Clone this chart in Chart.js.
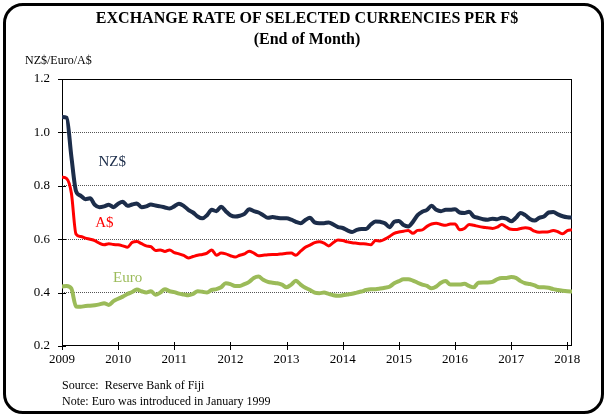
<!DOCTYPE html>
<html>
<head>
<meta charset="utf-8">
<script src="https://cdn.jsdelivr.net/npm/chart.js@4.4.1/dist/chart.umd.min.js"></script>
<style>
  body { margin: 0; background: #fff; font-family: "Liberation Serif", "Times New Roman", serif; }
  #frame { position: absolute; left: 3px; top: 3px; width: 595px; height: 405px; border: 3px solid #000; border-radius: 20px; }
  #title { position: absolute; left: 0; top: 7px; width: 614px; text-align: center; font-weight: bold; font-size: 16px; line-height: 21px; }
  #unit { position: absolute; left: 25px; top: 53px; font-size: 12px; line-height: 14px; }
  #note { position: absolute; left: 62px; top: 377px; font-size: 12px; line-height: 16px; }
  #chart { position: absolute; left: 0; top: 0; }
</style>
</head>
<body>
<div id="frame"></div>
<canvas id="chart" width="608" height="416"></canvas>
<div id="title">EXCHANGE RATE OF SELECTED CURRENCIES PER F$<br>(End of Month)</div>
<div id="unit">NZ$/Euro/A$</div>
<div id="note">Source:&nbsp; Reserve Bank of Fiji<br>Note: Euro was introduced in January 1999</div>
<script>
// Month-end rates, January 2009 onwards
const startYear = 2009;
const years = [2009, 2010, 2011, 2012, 2013, 2014, 2015, 2016, 2017, 2018];
const yTicks = [0.2, 0.4, 0.6, 0.8, 1.0, 1.2];

const nzd = [1.058, 1.055, 0.91, 0.78, 0.763, 0.75, 0.753, 0.729, 0.72, 0.723, 0.729, 0.72,
  0.733, 0.74, 0.725, 0.73, 0.734, 0.72, 0.723, 0.73, 0.726, 0.723, 0.719, 0.715,
  0.723, 0.733, 0.725, 0.71, 0.70, 0.685, 0.678, 0.69, 0.71, 0.705, 0.722, 0.705,
  0.69, 0.685, 0.688, 0.695, 0.712, 0.705, 0.70, 0.69, 0.68, 0.683, 0.68, 0.678,
  0.678, 0.673, 0.665, 0.66, 0.672, 0.68, 0.663, 0.66, 0.66, 0.663, 0.655, 0.645,
  0.642, 0.633, 0.627, 0.635, 0.638, 0.638, 0.655, 0.666, 0.665, 0.66, 0.645, 0.665,
  0.668, 0.653, 0.648, 0.665, 0.69, 0.703, 0.71, 0.725, 0.71, 0.705, 0.71, 0.71,
  0.712, 0.70, 0.698, 0.703, 0.685, 0.68, 0.675, 0.673, 0.677, 0.675, 0.68, 0.677,
  0.667, 0.68, 0.698, 0.69, 0.676, 0.67, 0.68, 0.685, 0.70, 0.702, 0.693, 0.686,
  0.682, 0.681];

const aud = [0.832, 0.827, 0.773, 0.619, 0.61, 0.604, 0.60, 0.595, 0.585, 0.579, 0.583, 0.58,
  0.579, 0.575, 0.57, 0.588, 0.591, 0.583, 0.575, 0.572, 0.558, 0.56, 0.554, 0.56,
  0.55, 0.545, 0.539, 0.53, 0.535, 0.54, 0.543, 0.548, 0.56, 0.54, 0.548, 0.545,
  0.538, 0.533, 0.54, 0.545, 0.555, 0.548, 0.538, 0.54, 0.542, 0.543, 0.543, 0.545,
  0.547, 0.548, 0.54, 0.555, 0.57, 0.578, 0.587, 0.59, 0.585, 0.575, 0.588, 0.597,
  0.595, 0.59, 0.587, 0.585, 0.583, 0.582, 0.579, 0.595, 0.593, 0.60, 0.61, 0.622,
  0.627, 0.63, 0.633, 0.622, 0.633, 0.635, 0.648, 0.657, 0.66, 0.655, 0.652, 0.657,
  0.657, 0.635, 0.64, 0.655, 0.652, 0.648, 0.645, 0.643, 0.64, 0.645, 0.655, 0.645,
  0.637, 0.636, 0.64, 0.643, 0.64, 0.63, 0.626, 0.627, 0.628, 0.633, 0.628, 0.62,
  0.632, 0.635];

const eur = [0.423, 0.425, 0.415, 0.348, 0.347, 0.35, 0.351, 0.353, 0.356, 0.36, 0.354, 0.368,
  0.377, 0.385, 0.395, 0.402, 0.412, 0.405, 0.40, 0.405, 0.392, 0.40, 0.413, 0.405,
  0.402, 0.396, 0.393, 0.39, 0.395, 0.405, 0.403, 0.40, 0.41, 0.413, 0.42, 0.435,
  0.432, 0.425, 0.425, 0.432, 0.44, 0.455, 0.46, 0.448, 0.44, 0.437, 0.435, 0.43,
  0.42, 0.43, 0.444, 0.43, 0.418, 0.41, 0.40, 0.398, 0.40, 0.395, 0.39, 0.388,
  0.39, 0.393, 0.396, 0.40, 0.404, 0.41, 0.413, 0.413, 0.415, 0.418, 0.422, 0.435,
  0.443, 0.45, 0.45, 0.445, 0.437, 0.43, 0.425, 0.416, 0.423, 0.437, 0.443, 0.43,
  0.43, 0.43, 0.433, 0.425, 0.42, 0.437, 0.438, 0.438, 0.44, 0.45, 0.455, 0.455,
  0.458, 0.455, 0.443, 0.435, 0.432, 0.427, 0.42, 0.42, 0.418, 0.413, 0.41, 0.407,
  0.405, 0.404];

// in-chart series names, anchored in data units (year, rate)
const seriesLabels = [
  { text: 'NZ$', color: '#1c2d4a', x: 2009.65, y: 0.89 },
  { text: 'A$', color: '#ff0000', x: 2009.59, y: 0.66 },
  { text: 'Euro', color: '#9bbb59', x: 2009.91, y: 0.455 }
];

const monthly = vals => vals.map((v, i) => ({ x: startYear + i / 12, y: v }));
const serif = '"Liberation Serif", "Times New Roman", serif';

// plot box, cross ticks and series names
const decor = {
  id: 'decor',
  beforeDatasetsDraw(chart) {
    const { ctx, chartArea: a, scales: { x, y } } = chart;
    ctx.save();
    ctx.setLineDash([]);
    ctx.strokeStyle = '#000';
    ctx.lineWidth = 1;
    ctx.strokeRect(Math.round(a.left) + 0.5, Math.round(a.top) + 0.5,
      Math.round(a.width) - 1, Math.round(a.height) - 1);
    ctx.beginPath();
    y.ticks.forEach(t => {
      const py = Math.round(y.getPixelForValue(t.value)) + 0.5;
      ctx.moveTo(a.left - 4, py);
      ctx.lineTo(a.left + 4, py);
    });
    x.ticks.forEach(t => {
      const px = Math.round(x.getPixelForValue(t.value)) + 0.5;
      ctx.moveTo(px, a.bottom - 4);
      ctx.lineTo(px, a.bottom + 4);
    });
    ctx.stroke();

    ctx.font = '15px ' + serif;
    ctx.textBaseline = 'middle';
    seriesLabels.forEach(l => {
      ctx.fillStyle = l.color;
      ctx.fillText(l.text, x.getPixelForValue(l.x), y.getPixelForValue(l.y));
    });
    ctx.restore();
  }
};

new Chart(document.getElementById('chart'), {
  type: 'line',
  data: {
    datasets: [
      { label: 'NZ$', data: monthly(nzd), borderColor: '#1c2d4a', borderWidth: 4 },
      { label: 'A$', data: monthly(aud), borderColor: '#ff0000', borderWidth: 3 },
      { label: 'Euro', data: monthly(eur), borderColor: '#9bbb59', borderWidth: 4 }
    ]
  },
  options: {
    responsive: false,
    animation: false,
    layout: { padding: { left: 0, right: 36, top: 79, bottom: 0 } },
    elements: {
      point: { radius: 0 },
      line: { cubicInterpolationMode: 'monotone', borderCapStyle: 'round', borderJoinStyle: 'round' }
    },
    plugins: { legend: { display: false }, tooltip: { enabled: false } },
    scales: {
      x: {
        type: 'linear',
        min: startYear,
        max: startYear + (nzd.length - 1) / 12,
        afterBuildTicks: s => { s.ticks = years.map(v => ({ value: v })); },
        afterFit: s => { s.height = 70; },
        grid: { display: false },
        border: { display: false },
        ticks: { color: '#000', padding: -2, maxRotation: 0, font: { family: serif, size: 13 }, callback: v => String(v) }
      },
      y: {
        min: 0.2,
        max: 1.2,
        afterBuildTicks: s => { s.ticks = yTicks.map(v => ({ value: v })); },
        afterFit: s => { s.width = 62; },
        grid: {
          drawTicks: false,
          color: c => (c.tick && c.tick.value > 0.25 && c.tick.value < 1.15) ? '#555' : 'rgba(0,0,0,0)',
          lineWidth: 1
        },
        border: { display: false, dash: [1, 1] },
        ticks: { color: '#000', padding: 12, font: { family: serif, size: 13 }, callback: v => v.toFixed(1) }
      }
    }
  },
  plugins: [decor]
});
</script>
</body>
</html>
